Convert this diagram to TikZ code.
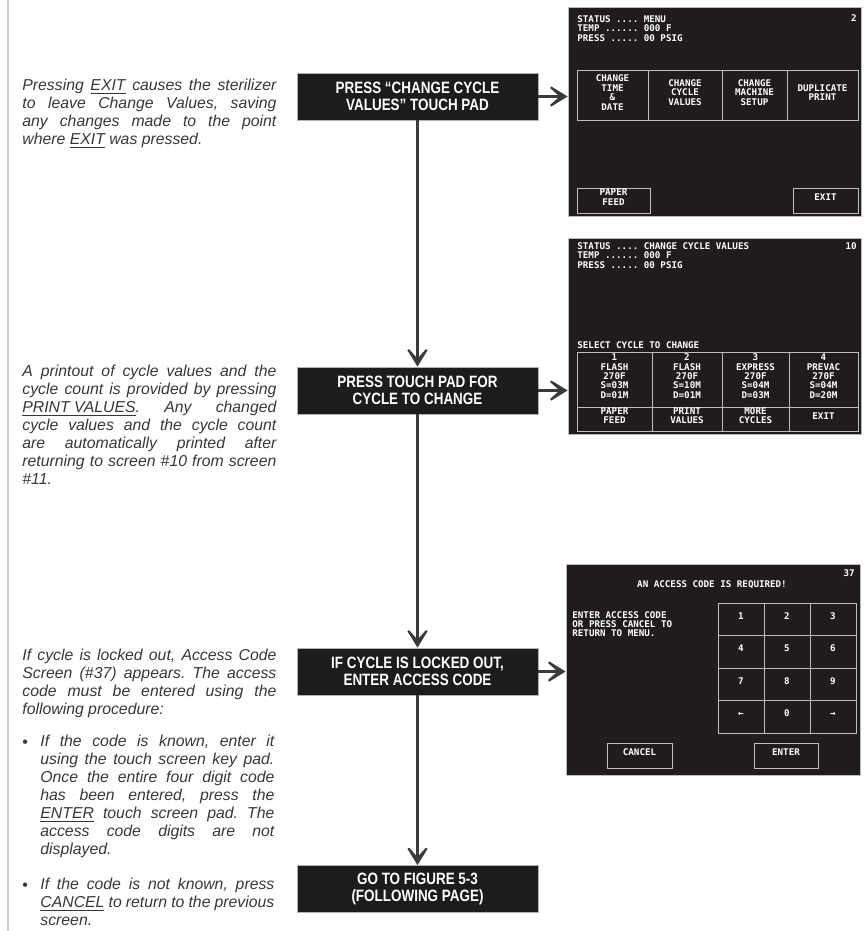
\documentclass[tikz,border=0pt]{standalone}
\usepackage{fontspec}
\setmainfont{Liberation Sans}
\newfontfamily\boxfont[FakeStretch=0.82]{Liberation Sans}
\newfontfamily\scrfont{DejaVu Sans Mono}
\usetikzlibrary{arrows.meta,fit}
\frenchspacing
\definecolor{boxblack}{RGB}{30,27,27}
\definecolor{scrblack}{RGB}{32,28,28}
\definecolor{padgray}{RGB}{190,190,190}
\definecolor{linegray}{RGB}{58,58,58}
\definecolor{notegray}{RGB}{55,55,55}
\definecolor{rulegray}{RGB}{205,205,205}
\tikzset{
  stepbox/.style={draw=gray!60, fill=boxblack, text=white, align=center, inner sep=0pt,
                  font=\boxfont\bfseries\fontsize{8.2}{8.3}\selectfont,
                  minimum width=120.5pt, minimum height=23.5pt},
  screen/.style ={draw=gray!55, fill=scrblack, inner sep=0pt, line width=0.4pt},
  pad/.style    ={draw=padgray, line width=0.5pt, inner sep=0pt, text=white, align=center,
                  font=\scrfont\bfseries\fontsize{4.6}{4.7}\selectfont},
  scrtxt/.style ={text=white, inner sep=0pt, align=left,
                  font=\scrfont\bfseries\fontsize{4.6}{4.6}\selectfont},
  flow/.style   ={-{Stealth[length=13pt,width=16pt,inset=9pt]}, draw=linegray, line width=1.3pt},
  note/.style   ={anchor=north west, inner sep=0pt, text=notegray, align=justify, text width=127pt,
                  font=\itshape\fontsize{7.9}{9}\selectfont},
  dot/.style    ={anchor=base west, inner sep=0pt, text=notegray, font=\fontsize{8}{8}\selectfont},
}
\begin{document}
\begin{tikzpicture}[x=0.5pt,y=-0.5pt]
\useasboundingbox (0,0) rectangle (867,931);
\draw[rulegray, line width=1pt] (8,0) -- (8,931);

% flow steps
\node[stepbox] (chg)  at (417.5,96.5) {PRESS “CHANGE CYCLE\\VALUES” TOUCH PAD};
\node[stepbox] (pick) at (417.5,390.5) {PRESS TOUCH PAD FOR\\CYCLE TO CHANGE};
\node[stepbox] (lock) at (417.5,671.5) {IF CYCLE IS LOCKED OUT,\\ENTER ACCESS CODE};
\node[stepbox] (goto) at (417.5,889) {GO TO FIGURE 5-3\\(FOLLOWING PAGE)};

% screen #2: menu
\node[screen, fit={(568,7) (861,216)}] (menu) {};
\node[scrtxt, anchor=north west] at (577,15.5) {STATUS .... MENU\\TEMP ...... 000 F\\PRESS ..... 00 PSIG};
\node[scrtxt, anchor=base east] at (857,22) {2};
\foreach \xa/\xb/\lbl [count=\k] in {577/648/{CHANGE\\TIME\\\&\\DATE}, 648/722/{CHANGE\\CYCLE\\VALUES},
    722/787/{CHANGE\\MACHINE\\SETUP}, 787/858/{DUPLICATE\\PRINT}}
  \node[pad, fit={(\xa,71) (\xb,121)}] (menu\k) {\lbl};
\node[pad, fit={(577,188) (650,213)}] (menufeed) {PAPER\\FEED};
\node[pad, fit={(793,188) (858,213)}] (menuexit) {EXIT};

% screen #10: change cycle values
\node[screen, fit={(568,238) (861,434)}] (cyc) {};
\node[scrtxt, anchor=north west] at (577,242.5) {STATUS .... CHANGE CYCLE VALUES\\TEMP ...... 000 F\\PRESS ..... 00 PSIG};
\node[scrtxt, anchor=base east] at (857,249) {10};
\node[scrtxt, anchor=base west] (cycsel) at (577,348) {SELECT CYCLE TO CHANGE};
\foreach \xa/\xb/\lbl/\low [count=\k] in {577/652/{1\\FLASH\\270F\\S=03M\\D=01M}/{PAPER\\FEED},
    652/722/{2\\FLASH\\270F\\S=10M\\D=01M}/{PRINT\\VALUES},
    722/789/{3\\EXPRESS\\270F\\S=04M\\D=03M}/{MORE\\CYCLES},
    789/858/{4\\PREVAC\\270F\\S=04M\\D=20M}/{EXIT}}
{
  \node[pad, fit={(\xa,352) (\xb,407)}] (cyc\k) {\lbl};
  \node[pad, fit={(\xa,407) (\xb,431)}] (cycb\k) {\low};
}

% screen #37: access code
\node[screen, fit={(566,564) (860,775)}] (acc) {};
\node[scrtxt, anchor=base east] at (855,576) {37};
\node[scrtxt, anchor=base] (acctitle) at (712,587) {AN ACCESS CODE IS REQUIRED!};
\node[scrtxt, anchor=north west] (acchint) at (572,611) {ENTER ACCESS CODE\\OR PRESS CANCEL TO\\RETURN TO MENU.};
\foreach \lbl [count=\k from 0] in {1,2,3,4,5,6,7,8,9,←,0,→}
{
  \pgfmathtruncatemacro\row{\k/3}
  \pgfmathtruncatemacro\col{mod(\k,3)}
  \node[pad, fit={(718+46*\col,603+32.5*\row) (764+46*\col,635.5+32.5*\row)}] (key\k) {\lbl};
}
\node[pad, fit={(607,743) (672,768)}] (acccancel) {CANCEL};
\node[pad, fit={(754,743) (818,768)}] (accenter) {ENTER};

% connectors
\draw[flow] (chg)  -- (pick);
\draw[flow] (pick) -- (lock);
\draw[flow] (lock) -- (goto);
\draw[flow] (chg.east)  -- (chg.east -| menu.west);
\draw[flow] (pick.east) -- (pick.east -| cyc.west);
\draw[flow] (lock.east) -- (lock.east -| acc.west);

% side notes
\node[note] (exitnote) at (22,79) {Pressing \underline{EXIT} causes the sterilizer\linebreak
  to leave Change Values, saving\linebreak any changes made to the point\linebreak
  where \underline{EXIT} was pressed.};
\node[note] (printnote) at (22,365) {A printout of cycle values and the\linebreak
  cycle count is provided by pressing\linebreak \underline{PRINT VALUES}. Any changed\linebreak
  cycle values and the cycle count\linebreak are automatically printed after\linebreak
  returning to screen \#10 from screen\linebreak \#11.};
\node[note] (locknote) at (22,649) {If cycle is locked out, Access Code\linebreak
  Screen (\#37) appears. The access\linebreak code must be entered using the\linebreak
  following procedure:};
\node[dot] (dotA) at (22,747) {•};
\node[note, text width=117pt] (knownnote) at (40,735) {If the code is known, enter it\linebreak
  using the touch screen key pad.\linebreak Once the entire four digit code\linebreak
  has been entered, press the\linebreak \underline{ENTER} touch screen pad. The\linebreak
  access code digits are not\linebreak displayed.};
\node[dot] (dotB) at (22,890) {•};
\node[note, text width=117pt] (unknownnote) at (40,878) {If the code is not known, press\linebreak
  \underline{CANCEL} to return to the previous\linebreak screen.};
\end{tikzpicture}
\end{document}
